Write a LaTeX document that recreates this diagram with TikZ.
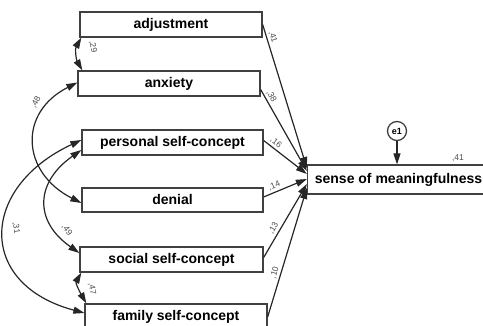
\documentclass[tikz,border=0pt]{standalone}
\usepackage{fontspec}
\setmainfont{Liberation Sans}
\usetikzlibrary{arrows.meta,calc}

\begin{document}
\begin{tikzpicture}[x=1pt,y=1pt,
    var/.style={draw=black!75,line width=1.3pt,minimum width=182pt,minimum height=25pt,inner sep=0pt,font=\fontsize{14}{16}\selectfont\bfseries},
    err/.style={draw=black!75,line width=1.3pt,circle,minimum size=19pt,inner sep=0pt,font=\fontsize{9}{10}\selectfont\bfseries},
    reg/.style={draw=black!85,line width=1.2pt,-{Triangle[length=11pt,width=7pt]}},
    cov/.style={draw=black!85,line width=1.2pt,{Triangle[length=11pt,width=7pt]}-{Triangle[length=11pt,width=7pt]}},
    coef/.style={font=\fontsize{8.5}{9}\selectfont,text=black!70,inner sep=2pt}]
    \useasboundingbox (0,0) rectangle (483,326);
    \node[var] (adj) at (171,301.5) {adjustment};
    \node[var] (anx) at (169,242.5) {anxiety};
    \node[var,minimum width=181pt] (pers) at (172.5,183.5) {personal self-concept};
    \node[var,minimum width=181pt,minimum height=24pt] (den) at (172.5,126) {denial};
    \node[var,minimum width=183pt] (soc) at (171.5,66.5) {social self-concept};
    \node[var,minimum height=26pt] (fam) at (176,9) {family self-concept};
    \node[var,minimum height=29pt] (sense) at (398.5,146.5) {sense of meaningfulness};
    \node[err] (e1) at (397,195) {e1};
    \draw[reg] (e1.south) -- (e1.south |- sense.north);
    \node[coef] (r2) at (458,168) {,41};
    \draw[reg] (adj.east) -- ($(sense.west)+(0,11.5)$) node[coef,pos=0.1,sloped,above] (b41) {,41};
    \draw[reg] ($(anx.east)+(0,-6)$) -- ($(sense.west)+(0,8.5)$) node[coef,pos=0.12,sloped,above] (b38) {,38};
    \draw[reg] ($(pers.east)+(0,2)$) -- ($(sense.west)+(0,5.5)$) node[coef,pos=0.2,sloped,above] (b16) {,16};
    \draw[reg] ($(den.east)+(0,3)$) -- ($(sense.west)+(0,0.5)$) node[coef,pos=0.3,sloped,above] (b14) {,14};
    \draw[reg] ($(soc.east)+(0,2)$) -- ($(sense.west)+(0,-4.5)$) node[coef,pos=0.35,sloped,above] (b13) {,13};
    \draw[reg] (fam.east) -- ($(sense.west)+(0,-8.5)$) node[coef,pos=0.33,sloped,above] (b10) {,10};
    \draw[cov] ($(adj.south west)+(2,0)$) to[out=240,in=120] ($(anx.north west)+(5,0)$);
    \draw[cov] ($(anx.west)+(0,1)$) to[out=207,in=153,distance=67pt] ($(den.west)+(0,-3)$);
    \draw[cov] ($(pers.west)+(0,2.5)$) to[out=205,in=165,distance=112pt] ($(fam.west)+(0,4)$);
    \draw[cov] ($(pers.west)+(0,-7.5)$) to[out=215,in=145,distance=56pt] ($(soc.west)+(0,6.5)$);
    \draw[cov] ($(soc.south west)+(2,0)$) to[out=240,in=120] ($(fam.north west)+(2,0)$);
    \node[coef,rotate=-80] (c29) at (93,279) {,29};
    \node[coef,rotate=60] (c48) at (36,224) {,48};
    \node[coef,rotate=-55] (c49) at (67,96) {,49};
    \node[coef,rotate=-82] (c31) at (16,98) {,31};
    \node[coef,rotate=-80] (c47) at (92,37) {,47};
\end{tikzpicture}
\end{document}
